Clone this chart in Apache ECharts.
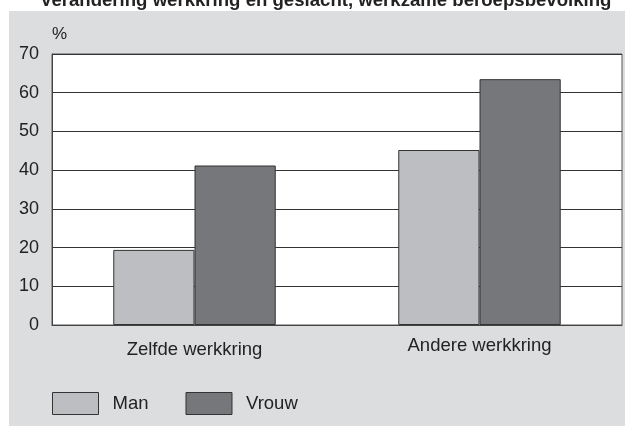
<!DOCTYPE html>
<html>
<head>
<meta charset="utf-8">
<script src="https://cdn.jsdelivr.net/npm/echarts@6/dist/echarts.min.js"></script>
<style>
    html, body { margin: 0; padding: 0; background: #fff; }
    #chart { width: 625px; height: 426px; }
</style>
</head>
<body>
<div id="chart"></div>
<script>
const categories = ['Zelfde werkkring', 'Andere werkkring']
const legendData = ['Man', 'Vrouw']
const manData = [19.4, 45.2]
const vrouwData = [41.2, 63.5]
const yTicks = [0, 10, 20, 30, 40, 50, 60, 70]

const font = '"Liberation Sans", Arial, sans-serif'

const dom = echarts.init(document.getElementById('chart'))
const options = {
    backgroundColor: '#fff',
    animation: false,
    // titel, bovenkant valt buiten beeld
    title: {
        text: 'Verandering werkkring en geslacht, werkzame beroepsbevolking',
        left: 40,
        top: -9,
        padding: 0,
        textStyle: {
            fontFamily: font,
            fontSize: 18.6,
            fontWeight: 'bold',
            color: '#222'
        }
    },
    graphic: [
        {
            type: 'rect',
            z: -100,
            silent: true,
            shape: {x: 9, y: 11, width: 616, height: 415},
            style: {fill: '#dcdddf'}
        }
    ],
    legend: {
        left: 52,
        top: 392,
        itemWidth: 46,
        itemHeight: 22,
        itemGap: 37,
        padding: 0,
        icon: 'rect',
        data: legendData,
        itemStyle: {borderColor: '#333', borderWidth: 1},
        textStyle: {
            fontFamily: font,
            fontSize: 18.5,
            color: '#222',
            padding: [6, 0, 0, 9]
        }
    },
    grid: {
        left: 52,
        right: 3,
        top: 54,
        bottom: 101,
        show: true,
        backgroundColor: '#fff',
        borderColor: '#555',
        borderWidth: 1
    },
    xAxis: {
        type: 'category',
        data: categories,
        axisTick: {show: false},
        axisLine: {lineStyle: {color: '#444'}},
        axisLabel: {
            margin: 11,
            fontFamily: font,
            fontSize: 18.5,
            color: '#222',
            formatter: (v, i) => (i === 0 ? '{a|' + v + '}' : '{b|' + v + '}'),
            rich: {
                a: {fontFamily: font, fontSize: 18.5, color: '#222', padding: [4, 0, 0, 0]},
                b: {fontFamily: font, fontSize: 18.5, color: '#222'}
            }
        }
    },
    yAxis: {
        type: 'value',
        min: yTicks[0],
        max: yTicks[yTicks.length - 1],
        interval: 10,
        name: '%',
        nameGap: 20,
        nameTextStyle: {
            fontFamily: font,
            fontSize: 17,
            color: '#222',
            align: 'left',
            verticalAlign: 'middle'
        },
        axisLine: {show: true, lineStyle: {color: '#444'}},
        axisTick: {show: false},
        axisLabel: {
            margin: 13,
            fontFamily: font,
            fontSize: 18,
            color: '#222'
        },
        splitLine: {lineStyle: {color: '#333', width: 1}}
    },
    series: [
        {
            name: legendData[0],
            type: 'bar',
            barCategoryGap: '43%',
            barGap: '0%',
            itemStyle: {color: '#bdbec1', borderColor: '#333', borderWidth: 1},
            data: manData
        },
        {
            name: legendData[1],
            type: 'bar',
            barCategoryGap: '43%',
            barGap: '0%',
            itemStyle: {color: '#76777a', borderColor: '#333', borderWidth: 1},
            data: vrouwData
        }
    ]
}
dom.setOption(options)
</script>
</body>
</html>
